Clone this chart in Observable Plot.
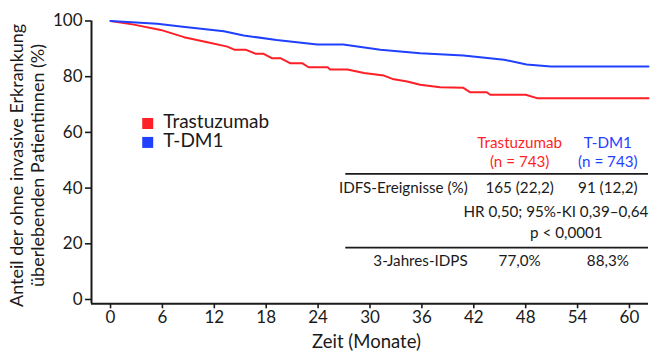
<!DOCTYPE html>
<html>
<head>
<meta charset="utf-8">
<script src="https://cdn.jsdelivr.net/npm/d3@7"></script>
<script src="https://cdn.jsdelivr.net/npm/@observablehq/plot@0.6"></script>
<style>
  html, body { margin: 0; padding: 0; background: #fff; }
  #chart { width: 660px; height: 358px; }
</style>
</head>
<body>
<div id="chart"></div>
<script>
// ---- Data ----
const seriesNames = ["Trastuzumab", "T-DM1"];
const monthsTrastuzumab = [0, 2.7, 5.8, 8.5, 11.2, 13.5, 14.3, 15.6, 16.8, 17.7, 18.7, 19.7, 20.8, 22.2, 22.9, 25.1, 25.4, 27.4, 29.3, 31.6, 32.6, 34.3, 35.8, 38.1, 40.8, 41.6, 43.5, 43.9, 48.0, 49.3, 62.2];
const survivalTrastuzumab = [100, 98.7, 96.8, 94.2, 92.4, 90.8, 89.7, 89.7, 88.2, 88.2, 86.6, 86.6, 84.8, 84.8, 83.4, 83.4, 82.6, 82.6, 81.3, 80.4, 79.2, 78.3, 77.1, 76.2, 76.0, 74.4, 74.4, 73.5, 73.5, 72.3, 72.3];
const monthsTDM1 = [0, 5.4, 8.1, 13.1, 15.4, 19.2, 23.9, 26.9, 31.2, 35.8, 40.8, 45.5, 48.1, 50.9, 62.2];
const survivalTDM1 = [100, 99.0, 98.0, 96.3, 94.8, 93.2, 91.6, 91.6, 89.7, 88.4, 87.6, 86.1, 84.4, 83.7, 83.7];

const xTicks = [0, 6, 12, 18, 24, 30, 36, 42, 48, 54, 60];
const yTicks = [0, 20, 40, 60, 80, 100];
const xLabel = "Zeit (Monate)";
const yLabel = "Anteil der ohne invasive Erkrankung\nüberlebenden Patientinnen (%)";

const tableN = ["(n = 743)", "(n = 743)"];
const rowLabels = ["IDFS-Ereignisse (%)", "3-Jahres-IDPS"];
const eventValues = ["165 (22,2)", "91 (12,2)"];
const idfsValues = ["77,0%", "88,3%"];
const hrText = ["HR 0,50; 95%-KI 0,39–0,64"];
const pText = ["p < 0,0001"];

// ---- Layout / style ----
const colors = ["#ff1f26", "#1f40ff"];
const ink = "#1a1a1a";
const font = "Lato, 'Open Sans', sans-serif";
const xDomain = [-2.2, 62.2];
const yDomain = [-1.55, 100];

const lineData = [
  ...monthsTrastuzumab.map((m, i) => ({series: seriesNames[0], m, v: survivalTrastuzumab[i]})),
  ...monthsTDM1.map((m, i) => ({series: seriesNames[1], m, v: survivalTDM1[i]}))
];

// table geometry in data units
const colX = [47.3, 57.5];
const labelRight = 41.3;
const tableLeft = 27.2;
const rowY = {head1: 54.3, head2: 47.5, events: 38.2, hr: 29.5, p: 22.2, idfs: 12.2};
const ruleYs = [45.1, 18.6];
const tableFont = 15.2;

const chart = Plot.plot({
  width: 660,
  height: 358,
  marginTop: 20.5,
  marginBottom: 54.7,
  marginLeft: 91,
  marginRight: 12,
  style: {fontFamily: font, fontSize: "17px", color: ink, background: "#fff"},
  x: {domain: xDomain},
  y: {domain: yDomain},
  marks: [
    Plot.axisX({ticks: xTicks, tickSize: 5, tickPadding: 2, strokeWidth: 1.6, label: null, fontSize: 17}),
    Plot.axisY({ticks: yTicks, tickSize: 6, tickPadding: 3, strokeWidth: 1.6, label: null, fontSize: 17}),
    Plot.ruleY([yDomain[0]], {x1: xDomain[0], x2: xDomain[1], stroke: ink, strokeWidth: 2}),
    Plot.ruleX([xDomain[0]], {y1: yDomain[0], y2: yDomain[1], stroke: ink, strokeWidth: 2}),
    // x axis title
    Plot.text([xLabel], {frameAnchor: "bottom", dx: -3.5, dy: 44, lineAnchor: "bottom", fontSize: 18.5, fill: ink}),
    // y axis title (two lines)
    Plot.text([yLabel], {frameAnchor: "left", textAnchor: "middle", rotate: -90, dx: -47.7, dy: 3, lineAnchor: "bottom", lineHeight: 1.15, fontSize: 18, fill: ink}),
    // curves
    Plot.line(lineData, {x: "m", y: "v", z: "series", stroke: (d) => colors[seriesNames.indexOf(d.series)], strokeWidth: 2}),
    // legend
    Plot.dot(seriesNames, {x: 4.3, y: (d, i) => [63.2, 56.4][i], symbol: "square", r: 6.2, fill: (d, i) => colors[i], stroke: null}),
    Plot.text(seriesNames, {x: 6.1, y: (d, i) => [61.4, 54.6][i], text: (d) => d, textAnchor: "start", lineAnchor: "bottom", fontSize: 19, fill: ink}),
    // table headers
    Plot.text(seriesNames, {x: (d, i) => colX[i], y: rowY.head1, text: (d) => d, lineAnchor: "bottom", fontSize: tableFont, fill: (d, i) => colors[i]}),
    Plot.text(tableN, {x: (d, i) => colX[i], y: rowY.head2, text: (d) => d, lineAnchor: "bottom", fontSize: tableFont, fill: (d, i) => colors[i]}),
    // table rules
    Plot.ruleY(ruleYs, {x1: tableLeft, x2: xDomain[1], stroke: ink, strokeWidth: 1.8}),
    // row labels
    Plot.text(rowLabels, {x: labelRight, y: (d, i) => [rowY.events, rowY.idfs][i], text: (d) => d, textAnchor: "end", lineAnchor: "bottom", fontSize: tableFont, fill: ink}),
    Plot.text(eventValues, {x: (d, i) => colX[i], y: rowY.events, text: (d) => d, lineAnchor: "bottom", fontSize: tableFont, fill: ink}),
    Plot.text(idfsValues, {x: (d, i) => colX[i], y: rowY.idfs, text: (d) => d, lineAnchor: "bottom", fontSize: tableFont, fill: ink}),
    Plot.text(hrText, {x: 51.5, y: rowY.hr, text: (d) => d, lineAnchor: "bottom", fontSize: tableFont, fill: ink}),
    Plot.text(pText, {x: 52.7, y: rowY.p, text: (d) => d, lineAnchor: "bottom", fontSize: tableFont, fill: ink})
  ]
});
document.getElementById("chart").appendChild(chart);
</script>
</body>
</html>
